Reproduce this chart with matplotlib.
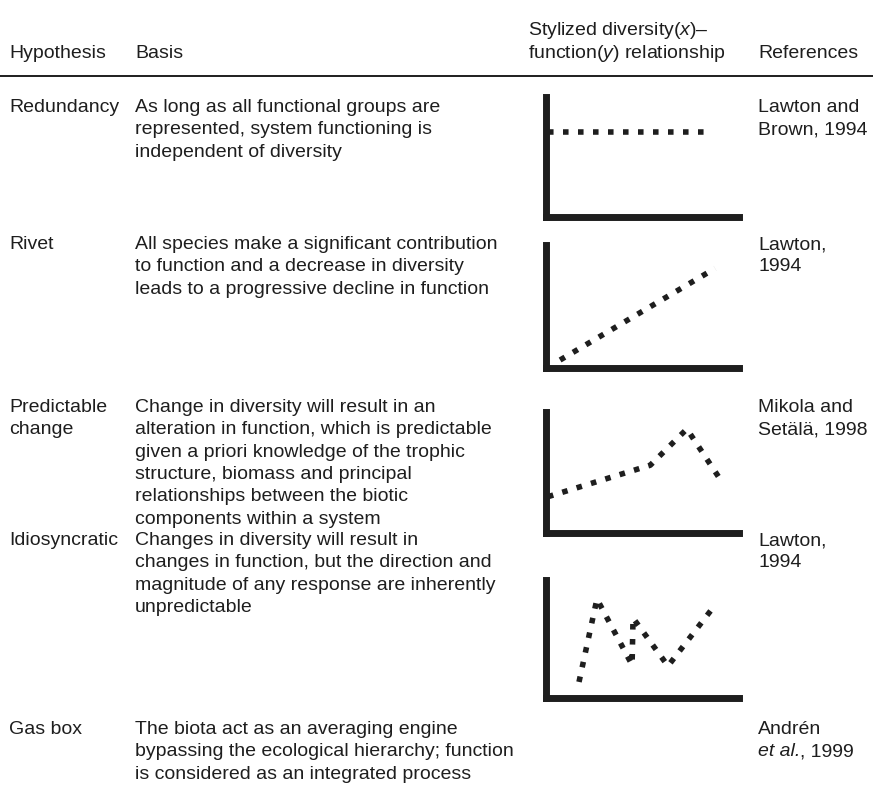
import matplotlib
matplotlib.use("Agg")
import matplotlib.pyplot as plt
from matplotlib import font_manager

# table content
headers = ["Hypothesis", "Basis", r"function($\mathit{y}$) relationship", "References"]
header_top = r"Stylized diversity($\mathit{x}$)–"

hypotheses = [
    ["Redundancy"],
    ["Rivet"],
    ["Predictable", "change"],
    ["Idiosyncratic"],
    ["Gas box"],
]

basis = [
    ["As long as all functional groups are",
     "represented, system functioning is",
     "independent of diversity"],
    ["All species make a significant contribution",
     "to function and a decrease in diversity",
     "leads to a progressive decline in function"],
    ["Change in diversity will result in an",
     "alteration in function, which is predictable",
     "given a priori knowledge of the trophic",
     "structure, biomass and principal",
     "relationships between the biotic",
     "components within a system"],
    ["Changes in diversity will result in",
     "changes in function, but the direction and",
     "magnitude of any response are inherently",
     "unpredictable"],
    ["The biota act as an averaging engine",
     "bypassing the ecological hierarchy; function",
     "is considered as an integrated process"],
]

# second item of a tuple is (italic part, upright rest)
references = [
    ["Lawton and", "Brown, 1994"],
    ["Lawton,", "1994"],
    ["Mikola and", "Setälä, 1998"],
    ["Lawton,", "1994"],
    ["Andrén", ("et al.", ", 1999")],
]

# stylized diversity(x) - function(y) curves, as fractions of the small axes
redundancy_x = [0.01, 0.855]
redundancy_y = [0.71, 0.71]
rivet_x = [0.073, 0.876]
rivet_y = [0.065, 0.81]
predictable_x = [0.01, 0.54, 0.73, 0.90]
predictable_y = [0.30, 0.56, 0.86, 0.45]
idiosyncratic_x = [0.171, 0.264, 0.446, 0.451, 0.632, 0.876]
idiosyncratic_y = [0.136, 0.839, 0.28, 0.678, 0.271, 0.788]

curves = [(redundancy_x, redundancy_y), (rivet_x, rivet_y),
          (predictable_x, predictable_y), (idiosyncratic_x, idiosyncratic_y)]

# fonts: narrow Helvetica look if available
names = set(f.name for f in font_manager.fontManager.ttflist)
if "Liberation Sans Narrow" in names:
    family = "Liberation Sans Narrow"
    fsize = 17
else:
    family = "Liberation Sans"
    fsize = 14
plt.rcParams["font.family"] = [family, "DejaVu Sans"]
plt.rcParams["mathtext.fontset"] = "custom"
plt.rcParams["mathtext.rm"] = family
plt.rcParams["mathtext.it"] = family + ":italic"

W, H = 873, 805
ink = "#1e1e1e"

fig = plt.figure(figsize=(W / 100, H / 100), dpi=100)
ax = fig.add_axes([0, 0, 1, 1])
ax.set_xlim(0, W)
ax.set_ylim(H, 0)
ax.axis("off")

# column positions (pixels)
col_x = [9, 135, 528, 758]
row_base = [112, 249, 412, 545, 734]
lead = 22.3

ax.text(col_x[2], 35, header_top, fontsize=fsize, color=ink, va="baseline")
for x, h in zip(col_x, headers):
    ax.text(x, 57.5, h, fontsize=fsize, color=ink, va="baseline")
ax.axhline(76, color=ink, lw=1.4)

for i in range(len(hypotheses)):
    for col, lines in ((0, hypotheses[i]), (1, basis[i]), (3, references[i])):
        for k, line in enumerate(lines):
            y = row_base[i] + k * lead
            if isinstance(line, tuple):
                t = ax.text(col_x[col], y, line[0], fontsize=fsize, color=ink,
                            va="baseline", style="italic")
                ax.annotate(line[1], xy=(1, 0), xycoords=t, fontsize=fsize,
                            color=ink, va="bottom", ha="left")
            else:
                ax.text(col_x[col], y, line, fontsize=fsize, color=ink,
                        va="baseline")

# small axes for the stylized relationships
boxes = [(546, 97, 739, 217), (546, 245, 739, 368),
         (546, 412, 739, 533), (546, 580, 739, 698)]
for (x0, y0, x1, y1), (cx, cy) in zip(boxes, curves):
    sub = fig.add_axes([x0 / W, 1 - y1 / H, (x1 - x0) / W, (y1 - y0) / H])
    sub.set_xlim(0, 1)
    sub.set_ylim(0, 1)
    sub.set_xticks([])
    sub.set_yticks([])
    sub.patch.set_alpha(0)
    for s in ("top", "right"):
        sub.spines[s].set_visible(False)
    for s in ("left", "bottom"):
        sub.spines[s].set_linewidth(5)
        sub.spines[s].set_color(ink)
        sub.spines[s].set_capstyle("projecting")
    sub.plot(cx, cy, color=ink, lw=4, linestyle=(0, (1, 1.7)),
             dash_capstyle="butt", solid_joinstyle="miter", clip_on=False)

fig.savefig("out.png", dpi=100)
